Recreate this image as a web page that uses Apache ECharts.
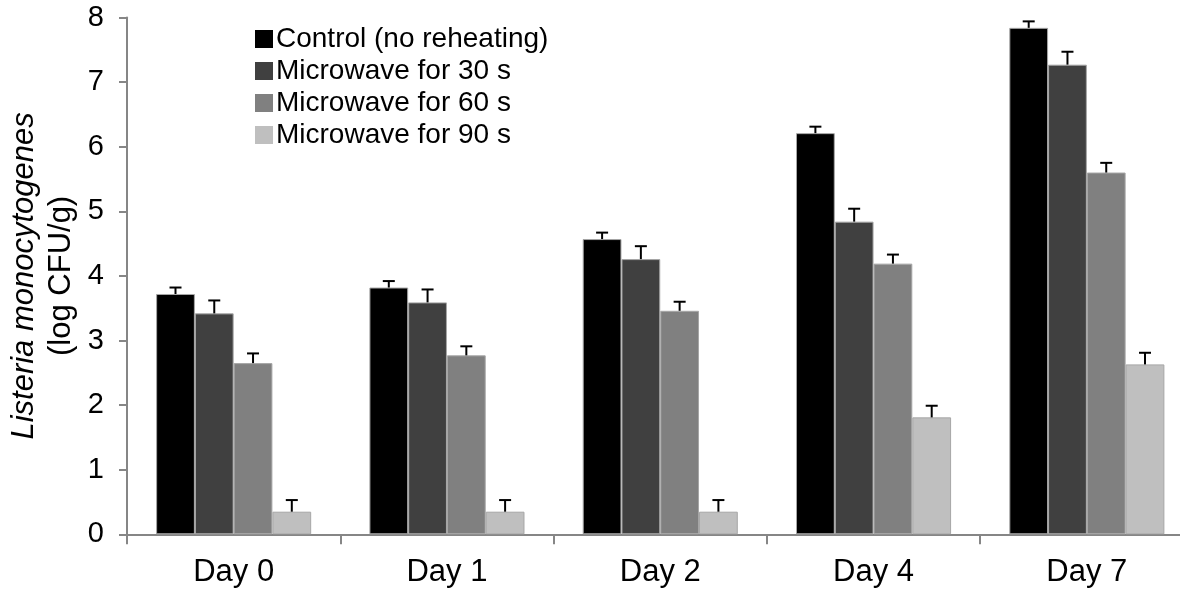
<!DOCTYPE html>
<html>
<head>
<meta charset="utf-8">
<title>Listeria monocytogenes after reheating</title>
<script src="https://cdn.jsdelivr.net/npm/echarts@6/dist/echarts.min.js"></script>
<style>
  html, body { margin: 0; padding: 0; background: #ffffff; }
  #chart { width: 1180px; height: 594px; }
</style>
</head>
<body>
<div id="chart"></div>
<script>
// Storage day of the sample
const categories = ['Day 0', 'Day 1', 'Day 2', 'Day 4', 'Day 7'];

// Mean counts, log CFU/g
const control = [3.72, 3.82, 4.57, 6.21, 7.84];
const mw30 = [3.42, 3.59, 4.26, 4.84, 7.27];
const mw60 = [2.65, 2.77, 3.46, 4.19, 5.60];
const mw90 = [0.35, 0.35, 0.35, 1.81, 2.63];

// Standard deviations (upper bars only)
const controlErr = [0.10, 0.10, 0.10, 0.10, 0.10];
const mw30Err = [0.20, 0.20, 0.20, 0.20, 0.20];
const mw60Err = [0.15, 0.14, 0.14, 0.14, 0.15];
const mw90Err = [0.18, 0.18, 0.18, 0.18, 0.18];

const seriesNames = ['Control (no reheating)', 'Microwave for 30 s', 'Microwave for 60 s', 'Microwave for 90 s'];
const seriesColors = ['#000000', '#404040', '#808080', '#bfbfbf'];

// Y-axis ticks
const yTicks = [0, 1, 2, 3, 4, 5, 6, 7, 8];

const FONT = '"Liberation Sans", Arial, sans-serif';
const CATEGORY_GAP = 0.273;

const values = [control, mw30, mw60, mw90];
const errors = [controlErr, mw30Err, mw60Err, mw90Err];

const chart = echarts.init(document.getElementById('chart'), null, { renderer: 'canvas' });

const barSeries = seriesNames.map((name, i) => ({
  name: name,
  type: 'bar',
  data: values[i],
  barGap: '0%',
  barCategoryGap: (CATEGORY_GAP * 100) + '%',
  itemStyle: { color: seriesColors[i], borderColor: '#a6a6a6', borderWidth: 1 },
  emphasis: { disabled: true },
  z: 2
}));

// Upper error bars, one custom series per bar series
const errSeries = seriesNames.map((name, i) => ({
  type: 'custom',
  name: name + ' error',
  data: values[i].map((v, k) => [k, v, errors[i][k]]),
  encode: { x: 0, y: 1 },
  z: 3,
  silent: true,
  renderItem: function (params, api) {
    const k = api.value(0);
    const v = api.value(1);
    const e = api.value(2);
    const band = api.size([1, 0])[0];
    const groupW = band * (1 - CATEGORY_GAP);
    const barW = groupW / 4;
    const center = api.coord([k, v]);
    const x = center[0] - groupW / 2 + barW * (i + 0.5);
    const yTop = api.coord([k, v + e])[1];
    const yBase = center[1];
    const half = 6;
    const style = { stroke: '#000000', lineWidth: 2 };
    return {
      type: 'group',
      children: [
        { type: 'line', shape: { x1: x, y1: yBase, x2: x, y2: yTop }, style: style },
        { type: 'line', shape: { x1: x - half, y1: yTop, x2: x + half, y2: yTop }, style: style }
      ]
    };
  }
}));

const option = {
  animation: false,
  backgroundColor: '#ffffff',
  textStyle: { fontFamily: FONT },
  // the plot runs slightly past the right edge of the canvas
  grid: { left: 127, right: -13.5, top: 17.5, bottom: 59.7, containLabel: false, outerBoundsMode: 'none' },
  legend: {
    data: seriesNames,
    orient: 'vertical',
    left: 255,
    top: 23,
    icon: 'rect',
    itemWidth: 18,
    itemHeight: 18,
    itemGap: 0,
    padding: 0,
    selectedMode: false,
    itemStyle: { borderWidth: 0 },
    textStyle: { fontFamily: FONT, fontSize: 28, color: '#000000', lineHeight: 32, padding: [0, 0, 0, -2] }
  },
  xAxis: {
    type: 'category',
    data: categories,
    axisLine: { lineStyle: { color: '#868686', width: 2 } },
    axisTick: { show: true, alignWithLabel: false, length: 10, lineStyle: { color: '#868686', width: 2 } },
    axisLabel: { fontFamily: FONT, fontSize: 31, color: '#000000', margin: 23 },
    splitLine: { show: false }
  },
  yAxis: {
    type: 'value',
    min: yTicks[0],
    max: yTicks[yTicks.length - 1],
    interval: 1,
    name: '{it|Listeria monocytogenes}\n{rg|(log CFU/g)}',
    nameLocation: 'middle',
    nameRotate: 90,
    nameGap: 45,
    nameTextStyle: {
      fontFamily: FONT,
      color: '#000000',
      rich: {
        it: { fontFamily: FONT, fontSize: 31, fontStyle: 'italic', lineHeight: 37, color: '#000000' },
        rg: { fontFamily: FONT, fontSize: 31, lineHeight: 37, color: '#000000' }
      }
    },
    axisLine: { show: true, lineStyle: { color: '#868686', width: 2 } },
    axisTick: { show: true, length: 8, lineStyle: { color: '#868686', width: 2 } },
    axisLabel: { fontFamily: FONT, fontSize: 29, color: '#000000', margin: 23 },
    splitLine: { show: false }
  },
  series: barSeries.concat(errSeries)
};

chart.setOption(option);
</script>
</body>
</html>
